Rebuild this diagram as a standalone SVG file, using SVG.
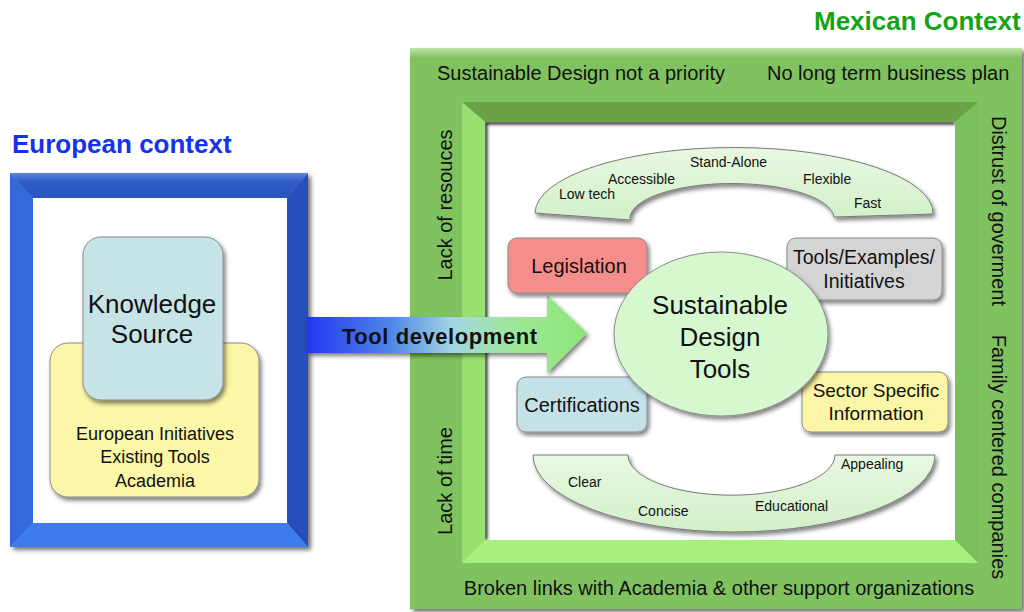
<svg xmlns="http://www.w3.org/2000/svg" width="1024" height="612" viewBox="0 0 1024 612">
<defs>
<filter id="sh" x="-10%" y="-10%" width="130%" height="140%">
<feDropShadow dx="3" dy="3" stdDeviation="2" flood-color="#000" flood-opacity="0.55"/>
</filter>
<filter id="shs" x="-5%" y="-5%" width="115%" height="115%">
<feDropShadow dx="2" dy="3" stdDeviation="2" flood-color="#000" flood-opacity="0.5"/>
</filter>
<filter id="blur"><feGaussianBlur stdDeviation="1.6"/></filter>
<clipPath id="whiteClip"><rect x="485" y="122" width="470" height="418"/></clipPath>
<linearGradient id="arrowG" x1="307" y1="0" x2="587" y2="0" gradientUnits="userSpaceOnUse">
<stop offset="0" stop-color="#2238f2"/>
<stop offset="0.3" stop-color="#4f86e6"/>
<stop offset="0.52" stop-color="#a4d6e2"/>
<stop offset="0.75" stop-color="#9ce894"/>
<stop offset="1" stop-color="#8ee47a"/>
</linearGradient>
<linearGradient id="arcG" x1="0" y1="0" x2="0" y2="1">
<stop offset="0" stop-color="#e8f8e2"/>
<stop offset="1" stop-color="#d2f0c8"/>
</linearGradient>
<linearGradient id="topBlue" x1="0" y1="173" x2="0" y2="198" gradientUnits="userSpaceOnUse">
<stop offset="0" stop-color="#5a86dc"/>
<stop offset="0.35" stop-color="#2f5cc6"/>
<stop offset="1" stop-color="#2a54bd"/>
</linearGradient>
<linearGradient id="topGreen" x1="0" y1="48" x2="0" y2="58" gradientUnits="userSpaceOnUse">
<stop offset="0" stop-color="#c2e6a8"/>
<stop offset="1" stop-color="#80c260"/>
</linearGradient>
</defs>
<style>
text{font-family:"Liberation Sans",Arial,sans-serif;fill:#111}
.t20{font-size:20px}
.t18{font-size:18px}
.t14{font-size:14px}
.box{stroke:#8a8a8a;stroke-width:1;filter:url(#shs)}
.arc{fill:url(#arcG);stroke:#7a7a7a;stroke-width:1;filter:url(#shs)}
.mid{text-anchor:middle}
</style>

<g id="mexican-context">
<rect x="410" y="48" width="612" height="561" fill="#80c260" filter="url(#sh)"/>
<rect x="410" y="48" width="612" height="10" fill="url(#topGreen)"/>
<polygon points="462,102 978,102 955,122 485,122" fill="#6aa24a"/>
<polygon points="462,102 485,122 485,540 462,563" fill="#98e070"/>
<polygon points="978,102 978,563 955,540 955,122" fill="#7abf5a"/>
<polygon points="462,563 485,540 955,540 978,563" fill="#a6f07e"/>
<rect x="485" y="122" width="470" height="418" fill="#ffffff"/>
<polyline points="486,540 486,123 955,123" fill="none" stroke="#1a1a1a" stroke-width="3" filter="url(#blur)" clip-path="url(#whiteClip)"/>
<text x="814" y="30" style="font-size:26px;font-weight:bold;fill:#16a316">Mexican Context</text>
<text class="t20" x="437" y="80">Sustainable Design not a priority</text>
<text class="t20" x="767" y="80">No long term business plan</text>
<text class="t20 mid" transform="translate(452,205) rotate(-90)">Lack of resouces</text>
<text class="t20 mid" transform="translate(452,481) rotate(-90)">Lack of time</text>
<text class="t20 mid" transform="translate(992,211) rotate(90)">Distrust of goverment</text>
<text class="t20 mid" transform="translate(992,457) rotate(90)">Family centered companies</text>
<text class="t20 mid" x="719" y="595">Broken links with Academia &amp; other support organizations</text>
</g>

<g id="european-context">
<text x="12" y="153" style="font-size:26px;font-weight:bold;fill:#1432f0">European context</text>
<g filter="url(#sh)">
<polygon points="10,173 308,173 287,198 33,198" fill="url(#topBlue)"/>
<polygon points="10,173 33,198 33,523 10,547" fill="#3468da"/>
<polygon points="308,173 308,547 287,523 287,198" fill="#2750bc"/>
<polygon points="10,547 33,523 287,523 308,547" fill="#3e7cee"/>
</g>
<rect x="33" y="198" width="254" height="325" fill="#ffffff"/>
</g>

<g id="european-initiatives">
<rect class="box" x="50" y="343" width="209" height="154" rx="18" fill="#fbf6a8"/>
<text class="t18 mid" x="155" y="440">European Initiatives</text>
<text class="t18 mid" x="155" y="463">Existing Tools</text>
<text class="t18 mid" x="155" y="487">Academia</text>
</g>

<g id="knowledge-source">
<rect class="box" x="83" y="237" width="140" height="163" rx="18" fill="#c6e3e6"/>
<text class="mid" x="152" y="313" style="font-size:26px">Knowledge</text>
<text class="mid" x="152" y="343" style="font-size:26px">Source</text>
</g>

<g id="connectors">
<g id="tool-development">
<polygon points="307,317 547,317 547,295 587,333 547,373 547,353 307,353" fill="url(#arrowG)" filter="url(#shs)"/>
<text x="342" y="344" style="font-size:22px;font-weight:bold" textLength="195" lengthAdjust="spacing">Tool development</text>
</g>
</g>

<g id="top-qualities">
<path class="arc" d="M 535 213 A 199 66 0 0 1 933 214 L 834 217 A 102 35 0 0 0 630 220 Z"/>
<text class="t14" x="559" y="199">Low tech</text>
<text class="t14" x="608" y="184">Accessible</text>
<text class="t14" x="690" y="167">Stand-Alone</text>
<text class="t14" x="803" y="184">Flexible</text>
<text class="t14" x="854" y="208">Fast</text>
</g>

<g id="bottom-qualities">
<path class="arc" d="M 533 455 L 628 455 A 103 40 0 0 0 835 455 L 935 455 A 201 77 0 0 1 533 455 Z"/>
<text class="t14" x="568" y="487">Clear</text>
<text class="t14" x="638" y="516">Concise</text>
<text class="t14" x="755" y="511">Educational</text>
<text class="t14" x="841" y="469">Appealing</text>
</g>

<g id="legislation">
<rect class="box" x="508" y="238" width="139" height="55" rx="9" fill="#f58e8b"/>
<text class="t20 mid" x="579" y="273">Legislation</text>
</g>

<g id="tools-examples">
<rect class="box" x="787" y="238" width="155" height="62" rx="9" fill="#d4d4d4"/>
<text class="mid" x="864" y="264" style="font-size:19.5px">Tools/Examples/</text>
<text class="mid" x="864" y="288" style="font-size:19.5px">Initiatives</text>
</g>

<g id="certifications">
<rect class="box" x="517" y="377" width="130" height="55" rx="9" fill="#c3e1e6"/>
<text class="t20 mid" x="582" y="412">Certifications</text>
</g>

<g id="sector-specific">
<rect class="box" x="802" y="372" width="146" height="60" rx="9" fill="#fbf5a6"/>
<text class="mid" x="876" y="397" style="font-size:19px">Sector Specific</text>
<text class="mid" x="876" y="420" style="font-size:19px">Information</text>
</g>

<g id="sustainable-design-tools">
<ellipse cx="721" cy="334" rx="107" ry="82" fill="#d5f8cf" stroke="#8a8a8a" stroke-width="1" filter="url(#shs)"/>
<text class="mid" x="720" y="314" style="font-size:26px">Sustainable</text>
<text class="mid" x="720" y="346" style="font-size:26px">Design</text>
<text class="mid" x="720" y="378" style="font-size:26px">Tools</text>
</g>
</svg>
